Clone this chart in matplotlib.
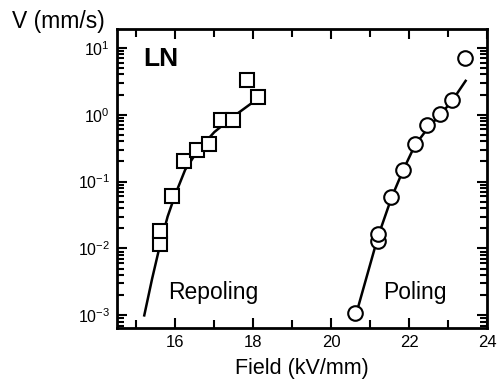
import numpy as np
import matplotlib.pyplot as plt
from matplotlib.ticker import LogLocator, NullFormatter, MultipleLocator

plt.rcParams["font.family"] = ["Liberation Sans", "DejaVu Sans"]
plt.rcParams["mathtext.fontset"] = "custom"
plt.rcParams["mathtext.rm"] = "Liberation Sans"
plt.rcParams["mathtext.it"] = "Liberation Sans"

# Repoling (squares)
repol_field = [15.61, 15.61, 15.92, 16.23, 16.55, 16.86, 17.18, 17.47, 17.83, 18.12]
repol_v = [0.0118, 0.0185, 0.06, 0.20, 0.30, 0.37, 0.84, 0.84, 3.3, 1.85]
repol_fit_field = [15.2, 15.4, 15.6, 15.8, 16.0, 16.25, 16.5, 16.75, 17.0, 17.5, 18.0, 18.12]
repol_fit_v = [0.001, 0.0035, 0.011, 0.03, 0.065, 0.15, 0.25, 0.38, 0.55, 0.95, 1.55, 1.8]

# Poling (circles)
pol_field = [20.62, 21.2, 21.2, 21.54, 21.85, 22.15, 22.46, 22.79, 23.1, 23.44]
pol_v = [0.0011, 0.013, 0.0167, 0.058, 0.15, 0.37, 0.71, 1.03, 1.67, 7.1]
pol_fit_field = [20.65, 21.2, 21.55, 21.85, 22.15, 22.5, 22.8, 23.1, 23.45]
pol_fit_v = [0.0011, 0.015, 0.058, 0.15, 0.35, 0.65, 1.0, 1.6, 3.2]

fig = plt.figure(figsize=(4.97, 3.92), dpi=100)
ax = fig.add_axes([0.2354, 0.163, 0.7446, 0.763])

ax.plot(repol_fit_field, repol_fit_v, color="k", lw=1.8, zorder=2)
ax.plot(pol_fit_field, pol_fit_v, color="k", lw=1.8, zorder=2)
ax.plot(repol_field, repol_v, ls="none", marker="s", ms=10, mfc="white",
        mec="k", mew=1.5, zorder=3)
ax.plot(pol_field, pol_v, ls="none", marker="o", ms=10.5, mfc="white",
        mec="k", mew=1.5, zorder=3)

ax.set_yscale("log")
ax.set_xlim(14.5, 24)
ax.set_ylim(10 ** -3.19, 10 ** 1.28)
ax.xaxis.set_major_locator(MultipleLocator(2))
ax.xaxis.set_minor_locator(MultipleLocator(1))
ax.yaxis.set_major_locator(LogLocator(base=10, numticks=10))
ax.yaxis.set_minor_locator(LogLocator(base=10, subs=np.arange(2, 10), numticks=20))
ax.yaxis.set_minor_formatter(NullFormatter())

for s in ax.spines.values():
    s.set_linewidth(2)
ax.tick_params(which="both", direction="in", top=True, right=True, width=1.5,
               labelsize=12, pad=5)
ax.tick_params(which="major", length=7)
ax.tick_params(which="minor", length=5)
ax.tick_params(axis="x", which="minor", length=6)
ax.tick_params(axis="y", labelsize=11.5)

ax.text(0.07, 0.9, "LN", transform=ax.transAxes, fontsize=19, fontweight="bold",
        va="center", ha="left")
ax.text(0.137, 0.12, "Repoling", transform=ax.transAxes, fontsize=16.5,
        va="center", ha="left")
ax.text(0.718, 0.12, "Poling", transform=ax.transAxes, fontsize=16.5,
        va="center", ha="left")

fig.text(0.025, 0.945, "V (mm/s)", fontsize=16.5, ha="left", va="center")
ax.set_xlabel("Field (kV/mm)", fontsize=15.5, labelpad=6)

fig.savefig("out.png", dpi=100)
